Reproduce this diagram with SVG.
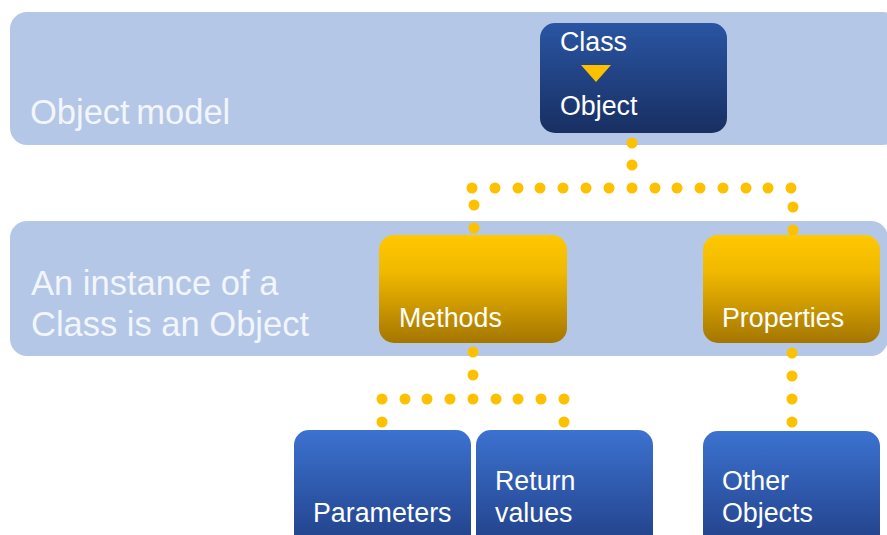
<svg xmlns="http://www.w3.org/2000/svg" width="887" height="535" viewBox="0 0 887 535">
<defs>
<linearGradient id="gDark" x1="0" y1="0" x2="0" y2="1"><stop offset="0" stop-color="#2a55a3"/><stop offset="1" stop-color="#182f62"/></linearGradient>
<linearGradient id="gGold" x1="0" y1="0" x2="0" y2="1"><stop offset="0" stop-color="#ffc800"/><stop offset="0.35" stop-color="#f0b800"/><stop offset="1" stop-color="#a47600"/></linearGradient>
<linearGradient id="gBlue" x1="0" y1="0" x2="0" y2="1"><stop offset="0" stop-color="#3c72d0"/><stop offset="1" stop-color="#213f86"/></linearGradient>
</defs>
<style>
.band{fill:#b4c7e7}
.bt{font-family:"Liberation Sans",Arial,sans-serif;font-size:34.5px;fill:#f2f5fb}
.t{font-family:"Liberation Sans",Arial,sans-serif;font-size:26.8px;fill:#ffffff}
.dot{fill:#fdc100}
</style>
<g id="band-object-model"><rect class="band" x="10" y="12" width="890" height="133" rx="17"/><text class="bt" x="30" y="124" word-spacing="-3">Object model</text></g>
<g id="band-instance"><rect class="band" x="10" y="221" width="878" height="135" rx="17"/><text class="bt" x="31" y="295">An instance of a</text><text class="bt" x="31" y="336">Class is an Object</text></g>
<g id="connectors">
<g class="dot">
<circle cx="632" cy="143" r="5.5"/><circle cx="632" cy="165" r="5.5"/>
<circle cx="472" cy="188" r="5.5"/><circle cx="495" cy="188" r="5.5"/><circle cx="518" cy="188" r="5.5"/><circle cx="540" cy="188" r="5.5"/><circle cx="563" cy="188" r="5.5"/><circle cx="586" cy="188" r="5.5"/><circle cx="609" cy="188" r="5.5"/><circle cx="632" cy="188" r="5.5"/><circle cx="655" cy="188" r="5.5"/><circle cx="677" cy="188" r="5.5"/><circle cx="700" cy="188" r="5.5"/><circle cx="723" cy="188" r="5.5"/><circle cx="746" cy="188" r="5.5"/><circle cx="768" cy="188" r="5.5"/><circle cx="791" cy="188" r="5.5"/>
<circle cx="474" cy="205" r="5.5"/><circle cx="474" cy="228" r="5.5"/>
<circle cx="793" cy="207" r="5.5"/><circle cx="793" cy="230" r="5.5"/>
<circle cx="473" cy="352" r="5.5"/><circle cx="473" cy="375" r="5.5"/>
<circle cx="382" cy="399" r="5.5"/><circle cx="405" cy="399" r="5.5"/><circle cx="427" cy="399" r="5.5"/><circle cx="450" cy="399" r="5.5"/><circle cx="473" cy="399" r="5.5"/><circle cx="496" cy="399" r="5.5"/><circle cx="518" cy="399" r="5.5"/><circle cx="541" cy="399" r="5.5"/><circle cx="564" cy="399" r="5.5"/>
<circle cx="382" cy="422" r="5.5"/><circle cx="564" cy="422" r="5.5"/>
<circle cx="792" cy="353" r="5.5"/><circle cx="792" cy="376" r="5.5"/><circle cx="792" cy="399" r="5.5"/><circle cx="792" cy="422" r="5.5"/>
</g>
</g>
<g id="node-class"><rect x="540" y="23" width="187" height="110" rx="15" fill="url(#gDark)"/><text class="t" x="560" y="51">Class</text><polygon points="581,65 611,65 596,82" fill="#ffc000"/><text class="t" x="560" y="115">Object</text></g>
<g id="node-methods"><rect x="379" y="235" width="188" height="108" rx="15" fill="url(#gGold)"/><text class="t" x="399" y="327">Methods</text></g>
<g id="node-properties"><rect x="703" y="235" width="177" height="108" rx="15" fill="url(#gGold)"/><text class="t" x="722" y="327">Properties</text></g>
<g id="node-parameters"><rect x="294" y="430" width="177" height="120" rx="15" fill="url(#gBlue)"/><text class="t" x="313" y="522">Parameters</text></g>
<g id="node-return"><rect x="476" y="430" width="177" height="120" rx="15" fill="url(#gBlue)"/><text class="t" x="495" y="490">Return</text><text class="t" x="495" y="522">values</text></g>
<g id="node-other"><rect x="703" y="431" width="177" height="120" rx="15" fill="url(#gBlue)"/><text class="t" x="722" y="490">Other</text><text class="t" x="722" y="522">Objects</text></g>
</svg>
